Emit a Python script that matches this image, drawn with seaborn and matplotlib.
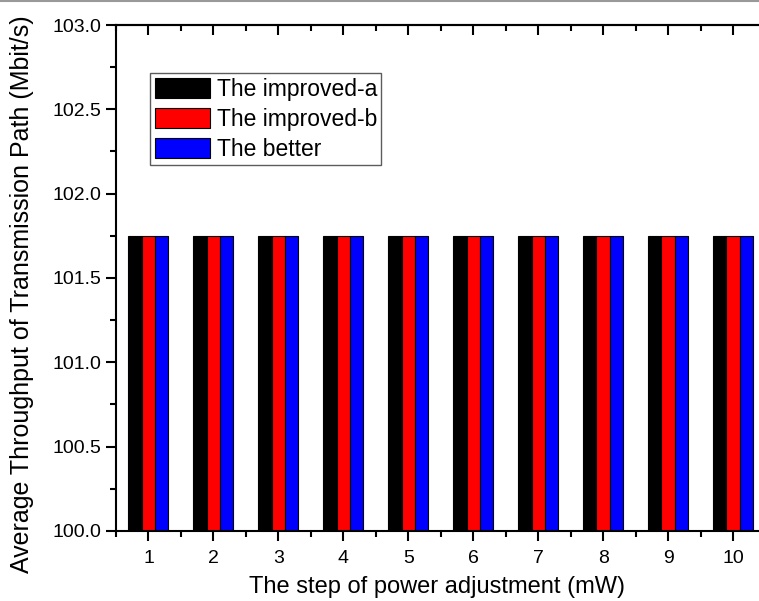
import numpy as np
import pandas as pd
import matplotlib
matplotlib.use("Agg")
import matplotlib.pyplot as plt
import seaborn as sns
from matplotlib.ticker import MultipleLocator, FixedLocator

# data
steps = ["1", "2", "3", "4", "5", "6", "7", "8", "9", "10"]
improved_a = [101.75] * 10
improved_b = [101.75] * 10
better = [101.75] * 10
series_names = ["The improved-a", "The improved-b", "The better"]
colors = ["#000000", "#ff0000", "#0000ff"]

df = pd.DataFrame({
    "step": steps * 3,
    "value": improved_a + improved_b + better,
    "method": [series_names[0]] * 10 + [series_names[1]] * 10 + [series_names[2]] * 10,
})

sns.set_style("ticks", {"text.color": "black", "xtick.color": "black",
                        "ytick.color": "black", "axes.labelcolor": "black",
                        "axes.edgecolor": "black"})
plt.rcParams["font.family"] = ["Liberation Sans", "DejaVu Sans"]

fig = plt.figure(figsize=(7.59, 6.01), dpi=100)
ax = fig.add_axes([0.1528, 0.1165, 0.8472, 0.8419])

sns.barplot(data=df, x="step", y="value", hue="method", palette=colors,
            width=0.615, edgecolor="black", linewidth=0.8, saturation=1,
            ax=ax, legend=True)

ax.set_ylim(100, 103)
ax.set_xlim(-0.5, 9.4)
ax.yaxis.set_major_locator(MultipleLocator(0.5))
ax.yaxis.set_minor_locator(MultipleLocator(0.25))
ax.yaxis.set_major_formatter(matplotlib.ticker.FormatStrFormatter("%.1f"))
ax.xaxis.set_minor_locator(FixedLocator(np.arange(-0.5, 10, 1)))

ax.tick_params(axis="both", which="major", direction="out", length=7, width=1.5,
               labelsize=14, colors="black")
ax.tick_params(axis="x", which="major", pad=7)
ax.tick_params(axis="both", which="minor", direction="out", length=4, width=1.5)

for s in ["left", "bottom", "top"]:
    ax.spines[s].set_linewidth(1.5)
ax.spines["right"].set_visible(False)

# top ticks pointing in
top = ax.secondary_xaxis("top")
top.set_xticks(range(10))
top.xaxis.set_minor_locator(FixedLocator(np.arange(-0.5, 10, 1)))
top.tick_params(which="major", direction="in", length=7, width=1.5, labeltop=False)
top.tick_params(which="minor", direction="in", length=4, width=1.5)
top.spines["top"].set_linewidth(1.5)

ax.set_xlabel("The step of power adjustment (mW)", fontsize=17, labelpad=6)
ax.set_ylabel("Average Throughput of Transmission Path (Mbit/s)", fontsize=18)
ax.yaxis.set_label_coords(-0.128, 0.468)

leg = ax.legend(loc="upper left", bbox_to_anchor=(0.053, 0.905), fontsize=16.5,
                frameon=True, fancybox=False, shadow=False, handlelength=2.4,
                handleheight=1.0, handletextpad=0.3, labelspacing=0.3,
                borderpad=0.2, borderaxespad=0)
leg.get_frame().set_edgecolor("#333333")
leg.get_frame().set_linewidth(1.0)

# thin grey border line at the top of the image
fig.add_artist(plt.Line2D([0, 1], [0.998, 0.998], color="#999999", linewidth=1.5))

fig.savefig("out.png", dpi=100)
